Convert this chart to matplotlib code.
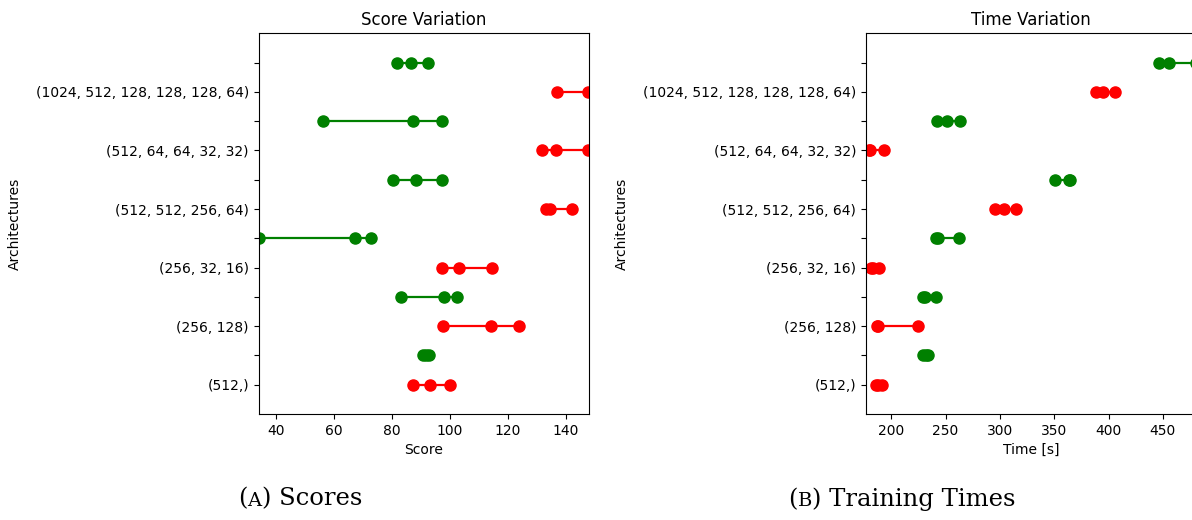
import matplotlib
matplotlib.use('Agg')
import matplotlib.pyplot as plt
from matplotlib.offsetbox import TextArea, HPacker, AnnotationBbox

# architectures, bottom to top
architectures = ['(512,)', '(256, 128)', '(256, 32, 16)', '(512, 512, 256, 64)',
                 '(512, 64, 64, 32, 32)', '(1024, 512, 128, 128, 128, 64)']

# red rows sit on the labelled ticks, green rows on the tick just above
score_red = [[87.3, 93.1, 100.2],
             [97.7, 114.3, 123.8],
             [97.2, 103.0, 114.5],
             [133.1, 134.6, 142.1],
             [131.8, 136.5, 147.8],
             [137.1, 147.8]]
score_green = [[90.7, 91.9, 92.9],
               [83.2, 98.0, 102.6],
               [34.0, 67.4, 72.6],
               [80.3, 88.3, 97.3],
               [56.1, 87.3, 97.3],
               [81.9, 86.7, 92.4]]

time_red = [[186.0, 188.0, 191.6],
            [186.5, 187.5, 224.7],
            [181.5, 183.5, 188.5],
            [295.1, 304.1, 314.9],
            [179.5, 180.5, 193.0],
            [388.4, 395.0, 406.1]]
time_green = [[229.6, 231.5, 233.4],
              [229.5, 231.0, 240.7],
              [241.5, 243.0, 262.7],
              [350.8, 363.5, 364.5],
              [242.5, 251.2, 263.0],
              [446.5, 455.5, 480.0]]

fig = plt.figure(figsize=(11.92, 5.2), dpi=100)
ax1 = fig.add_axes([0.2170, 0.2038, 0.2771, 0.7321])
ax2 = fig.add_axes([0.7263, 0.2038, 0.2771, 0.7321])


def draw(ax, red, green, title, xlabel, xlim):
    for i in range(len(architectures)):
        y = 2 * i
        ax.plot(red[i], [y] * len(red[i]), 'o-', color='red', markersize=8, linewidth=1.6)
        ax.plot(green[i], [y + 1] * len(green[i]), 'o-', color='green', markersize=8, linewidth=1.6)
    labels = []
    for a in architectures:
        labels += [a, '']
    ax.set_yticks(range(len(labels)))
    ax.set_yticklabels(labels)
    ax.set_ylim(-1, len(labels))
    ax.set_xlim(*xlim)
    ax.set_title(title)
    ax.set_xlabel(xlabel)
    ax.set_ylabel('Architectures', labelpad=10)


draw(ax1, score_red, score_green, 'Score Variation', 'Score', (34.0, 148.0))
draw(ax2, time_red, time_green, 'Time Variation', 'Time [s]', (176.5, 480.5))


def caption(x, letter, rest):
    big = dict(family='DejaVu Serif', size=17.5)
    small = dict(family='DejaVu Serif', size=14)
    parts = [TextArea('(', textprops=big), TextArea(letter, textprops=small),
             TextArea(') ' + rest, textprops=big)]
    box = HPacker(children=parts, align='baseline', pad=0, sep=0)
    ab = AnnotationBbox(box, (x, 0.040), xycoords='figure fraction',
                        frameon=False, box_alignment=(0.5, 0.5))
    fig.add_artist(ab)


caption(0.2517, 'A', 'Scores')
caption(0.7565, 'B', 'Training Times')

fig.savefig('out.png', dpi=100)
